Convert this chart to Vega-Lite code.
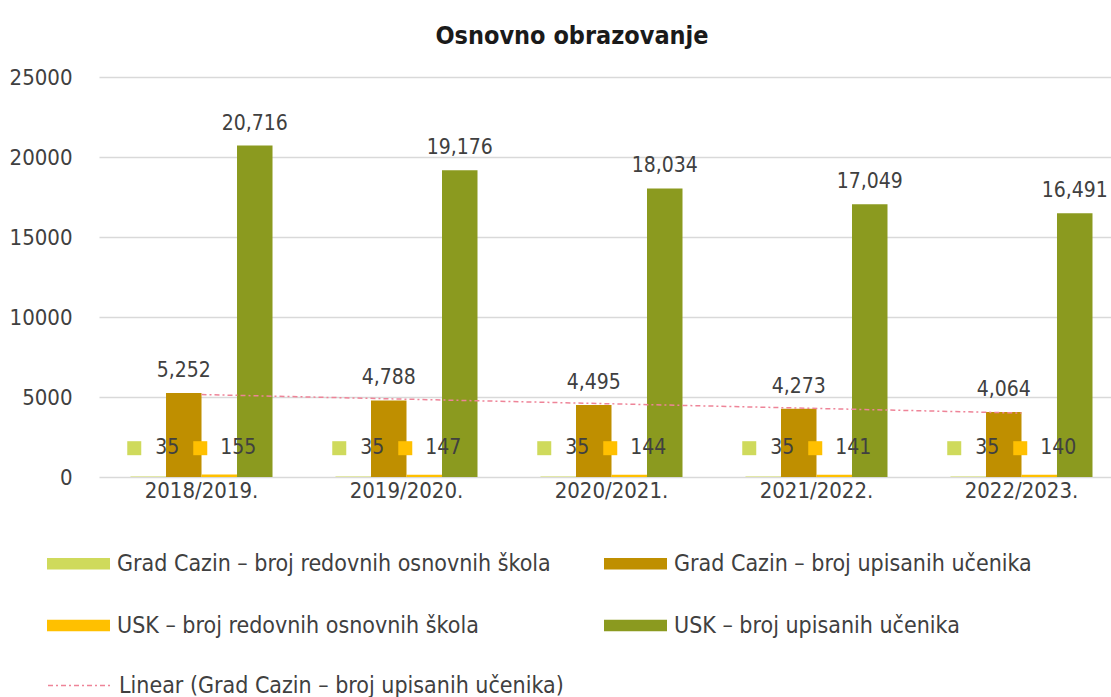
{
  "$schema": "https://vega.github.io/schema/vega-lite/v6.json",
  "width": 1012,
  "height": 400,
  "autosize": {"type": "none"},
  "padding": {"left": 99, "top": 77, "right": 0, "bottom": 220},
  "background": "white",
  "config": {
    "font": "DejaVu Sans Condensed",
    "view": {"stroke": null},
    "text": {"font": "DejaVu Sans Condensed"}
  },
  "title": {
    "text": "Osnovno obrazovanje",
    "fontSize": 25,
    "fontWeight": "bold",
    "color": "#1a1a1a",
    "anchor": "middle",
    "frame": "group",
    "dx": -33,
    "offset": -3,
    "baseline": "alphabetic",
    "font": "DejaVu Sans Condensed"
  },
  "datasets": {
    "main": [
      {"year": "2018/2019.", "idx": 0, "series": "Grad Cazin – broj redovnih osnovnih škola", "value": 35},
      {"year": "2018/2019.", "idx": 0, "series": "Grad Cazin – broj upisanih učenika", "value": 5252},
      {"year": "2018/2019.", "idx": 0, "series": "USK – broj redovnih osnovnih škola", "value": 155},
      {"year": "2018/2019.", "idx": 0, "series": "USK – broj upisanih učenika", "value": 20716},
      {"year": "2019/2020.", "idx": 1, "series": "Grad Cazin – broj redovnih osnovnih škola", "value": 35},
      {"year": "2019/2020.", "idx": 1, "series": "Grad Cazin – broj upisanih učenika", "value": 4788},
      {"year": "2019/2020.", "idx": 1, "series": "USK – broj redovnih osnovnih škola", "value": 147},
      {"year": "2019/2020.", "idx": 1, "series": "USK – broj upisanih učenika", "value": 19176},
      {"year": "2020/2021.", "idx": 2, "series": "Grad Cazin – broj redovnih osnovnih škola", "value": 35},
      {"year": "2020/2021.", "idx": 2, "series": "Grad Cazin – broj upisanih učenika", "value": 4495},
      {"year": "2020/2021.", "idx": 2, "series": "USK – broj redovnih osnovnih škola", "value": 144},
      {"year": "2020/2021.", "idx": 2, "series": "USK – broj upisanih učenika", "value": 18034},
      {"year": "2021/2022.", "idx": 3, "series": "Grad Cazin – broj redovnih osnovnih škola", "value": 35},
      {"year": "2021/2022.", "idx": 3, "series": "Grad Cazin – broj upisanih učenika", "value": 4273},
      {"year": "2021/2022.", "idx": 3, "series": "USK – broj redovnih osnovnih škola", "value": 141},
      {"year": "2021/2022.", "idx": 3, "series": "USK – broj upisanih učenika", "value": 17049},
      {"year": "2022/2023.", "idx": 4, "series": "Grad Cazin – broj redovnih osnovnih škola", "value": 35},
      {"year": "2022/2023.", "idx": 4, "series": "Grad Cazin – broj upisanih učenika", "value": 4064},
      {"year": "2022/2023.", "idx": 4, "series": "USK – broj redovnih osnovnih škola", "value": 140},
      {"year": "2022/2023.", "idx": 4, "series": "USK – broj upisanih učenika", "value": 16491}
    ],
    "years": [
      {"idx": 0, "year": "2018/2019."},
      {"idx": 1, "year": "2019/2020."},
      {"idx": 2, "year": "2020/2021."},
      {"idx": 3, "year": "2021/2022."},
      {"idx": 4, "year": "2022/2023."}
    ]
  },
  "data": {"name": "main"},
  "encoding": {
    "x": {
      "field": "year",
      "type": "nominal",
      "sort": null,
      "scale": {"paddingInner": 0.3073, "paddingOuter": 0.122, "align": 0.63},
      "axis": {
        "title": null,
        "labelAngle": 0,
        "labelFontSize": 22,
        "labelColor": "#404040",
        "labelPadding": 3,
        "ticks": false,
        "domain": false,
        "grid": false,
        "labelFont": "DejaVu Sans Condensed"
      }
    },
    "y": {
      "field": "value",
      "type": "quantitative",
      "scale": {"domain": [0, 25000], "nice": false},
      "axis": {
        "title": null,
        "values": [0, 5000, 10000, 15000, 20000, 25000],
        "format": "d",
        "labelFontSize": 22,
        "labelColor": "#404040",
        "labelPadding": 27,
        "ticks": false,
        "domain": false,
        "grid": true,
        "gridColor": "#d9d9d9",
        "gridWidth": 1.5,
        "labelFont": "DejaVu Sans Condensed"
      }
    }
  },
  "layer": [
    {
      "mark": {"type": "bar"},
      "encoding": {
        "xOffset": {"field": "series", "type": "nominal", "sort": null, "scale": {"paddingInner": 0, "paddingOuter": 0}},
        "color": {
          "field": "series",
          "type": "nominal",
          "sort": null,
          "scale": {
            "domain": ["Grad Cazin – broj redovnih osnovnih škola", "Grad Cazin – broj upisanih učenika", "USK – broj redovnih osnovnih škola", "USK – broj upisanih učenika"],
            "range": ["#cfda5c", "#bf8f00", "#ffc000", "#8b9a1f"]
          },
          "legend": {
            "orient": "none",
            "legendX": -52,
            "legendY": 455,
            "columns": 2,
            "direction": "horizontal",
            "title": null,
            "symbolType": "M-1,-0.18H1V0.18H-1Z",
            "symbolSize": 3969,
            "symbolStrokeWidth": 0,
            "labelFontSize": 23,
            "labelColor": "#404040",
            "labelOffset": 7,
            "labelLimit": 0,
            "columnPadding": 53,
            "rowPadding": 18,
            "labelFont": "DejaVu Sans Condensed"
          }
        }
      }
    },
    {
      "transform": [
        {"filter": "datum.series === 'Grad Cazin – broj upisanih učenika'"},
        {"regression": "value", "on": "idx"},
        {"lookup": "idx", "from": {"data": {"name": "years"}, "key": "idx", "fields": ["year"]}}
      ],
      "mark": {"type": "line", "strokeDash": [5, 3, 2, 3], "strokeWidth": 1.5},
      "encoding": {
        "stroke": {
          "datum": "Linear (Grad Cazin – broj upisanih učenika)",
          "scale": {"range": ["#ee8498"]},
          "legend": {
            "orient": "none",
            "legendX": -52,
            "legendY": 576,
            "title": null,
            "symbolType": "stroke",
            "symbolSize": 3969,
            "symbolDash": [5, 3, 2, 3],
            "symbolStrokeWidth": 1.5,
            "labelFontSize": 23,
            "labelColor": "#404040",
            "labelOffset": 7,
            "labelLimit": 0,
            "labelFont": "DejaVu Sans Condensed"
          }
        }
      }
    },
    {
      "transform": [{"filter": "datum.value > 1000"}],
      "mark": {"type": "text", "baseline": "alphabetic", "dy": -16, "fontSize": 21, "color": "#404040"},
      "encoding": {
        "xOffset": {"field": "series", "type": "nominal", "sort": null},
        "text": {"field": "value", "type": "quantitative", "format": ","}
      }
    },
    {
      "transform": [{"filter": "datum.value < 1000"}],
      "mark": {"type": "text", "baseline": "middle", "align": "center", "dx": 19, "fontSize": 21, "color": "#404040"},
      "encoding": {
        "xOffset": {"field": "series", "type": "nominal", "sort": null},
        "y": {"datum": 1800},
        "text": {"field": "value", "type": "quantitative"}
      }
    },
    {
      "transform": [{"filter": "datum.series === 'Grad Cazin – broj redovnih osnovnih škola'"}],
      "mark": {"type": "point", "shape": "M-3,-1H-1V1H-3Z", "filled": true, "opacity": 1, "size": 196, "strokeWidth": 0},
      "encoding": {
        "xOffset": {"field": "series", "type": "nominal", "sort": null},
        "y": {"datum": 1800},
        "color": {"field": "series", "type": "nominal", "sort": null}
      }
    },
    {
      "transform": [{"filter": "datum.series === 'USK – broj redovnih osnovnih škola'"}],
      "mark": {"type": "point", "shape": "M-3.714,-1H-1.714V1H-3.714Z", "filled": true, "opacity": 1, "size": 196, "strokeWidth": 0},
      "encoding": {
        "xOffset": {"field": "series", "type": "nominal", "sort": null},
        "y": {"datum": 1800},
        "color": {"field": "series", "type": "nominal", "sort": null}
      }
    }
  ]
}
